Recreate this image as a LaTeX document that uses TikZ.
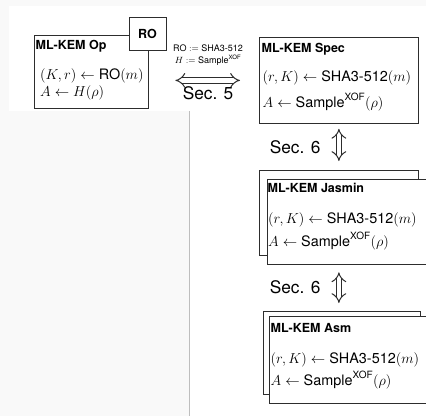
\documentclass[tikz,border=0pt]{standalone}
\usepackage{amsmath}
\usepackage{fontspec}
\setsansfont{TeX Gyre Heros}
\usetikzlibrary{arrows.meta,positioning}

\definecolor{pagegray}{RGB}{249,249,249}
\definecolor{rulegray}{RGB}{190,190,190}
\definecolor{framegray}{RGB}{45,45,45}

\begin{document}
\begin{tikzpicture}[
  x=1pt, y=-1pt, font=\sffamily,
  kembox/.style={draw=framegray, line width=0.8pt, fill=white, anchor=north west,
                 inner sep=0pt, minimum width=159pt, minimum height=85pt},
  ttl/.style={anchor=north west, inner sep=0pt, font=\sffamily\bfseries\fontsize{12.5}{15}\selectfont},
  body/.style={anchor=north west, inner sep=0pt, align=left, font=\sffamily\Large},
  sec/.style={inner sep=0pt, font=\sffamily\LARGE},
  dbl/.style={draw=framegray, double, double distance=4.2pt, line width=1pt,
              arrows={Implies[length=8pt, width=21pt]-Implies[length=8pt, width=21pt]}},
]
\useasboundingbox (0,0) rectangle (426,416);
\clip (0,0) rectangle (426,416);
% ---------------- page -----------------
\fill[pagegray] (0,0) rectangle (426,416);
\fill[white] (9,6) rectangle (426,111);
\fill[white] (190,111) rectangle (426,416);
\draw[rulegray, line width=0.8pt] (189.5,111) -- (189.5,416);
% ---------------- ideal scheme -----------------
\node[kembox, minimum width=114pt, minimum height=73pt] (op) at (34,35) {};
\node[kembox, minimum width=37pt, minimum height=33pt, anchor=center,
      font=\sffamily\bfseries\fontsize{12.5}{15}\selectfont] (ro) at (147.5,33.5) {RO};
\node[ttl, below right=5pt and 1.5pt of op.north west] (optitle) {ML-KEM Op};
\node[body, below right=33pt and 6pt of op.north west] (opbody)
  {$(K,r) \leftarrow \textsf{RO}(m)$\\[-1pt] $A \leftarrow H(\rho)$};
% ---------------- spec -----------------
\node[kembox, minimum height=86pt] (spec) at (259,37) {};
\node[ttl, below right=6pt and 2.5pt of spec.north west] (spectitle) {ML-KEM Spec};
\node[body, below right=33pt and 3.5pt of spec.north west] (specbody)
  {$(r,K) \leftarrow \textsf{SHA3-512}(m)$\\[8pt] $A \leftarrow \textsf{Sample}^{\textsf{XOF}}(\rho)$};
\draw[dbl, shorten <=9pt, shorten >=19pt] (ro.east |- spec.west) -- (spec.west)
  node[pos=0.45, above=14pt, align=center, inner sep=0pt, font=\small] (defs)
    {$\textsf{RO} := \textsf{SHA3-512}$\\[1.5pt] $H := \textsf{Sample}^{\textsf{XOF}}$}
  node[pos=0.45, below=6pt, sec] (sec5) {Sec. 5};
% ---------------- jasmin -----------------
\node[kembox] (jasbk) at (259,170) {};
\node[kembox] (jas) at (266.5,178.5) {};
\node[ttl, below right=4.5pt and 1pt of jas.north west] (jastitle) {ML-KEM Jasmin};
\node[body, below right=34pt and 1.5pt of jas.north west] (jasbody)
  {$(r,K) \leftarrow \textsf{SHA3-512}(m)$\\[5pt] $A \leftarrow \textsf{Sample}^{\textsf{XOF}}(\rho)$};
\draw[dbl, shorten <=5pt, shorten >=9pt] (spec.south) -- (jasbk.north -| spec.south)
  node[midway, left=18pt, sec] (sec6a) {Sec. 6};
% ---------------- asm -----------------
\node[kembox, minimum width=157pt, minimum height=83pt] (asmbk) at (262.5,311) {};
\node[kembox, minimum height=87pt] (asm) at (269,316) {};
\node[ttl, below right=7.5pt and 1.5pt of asm.north west] (asmtitle) {ML-KEM Asm};
\node[body, below right=36pt and 1.5pt of asm.north west] (asmbody)
  {$(r,K) \leftarrow \textsf{SHA3-512}(m)$\\[4pt] $A \leftarrow \textsf{Sample}^{\textsf{XOF}}(\rho)$};
\draw[dbl, shorten <=8pt, shorten >=8pt] (jas.south -| spec.south) -- (asmbk.north -| spec.south)
  node[midway, left=18pt, sec] (sec6b) {Sec. 6};
\end{tikzpicture}
\end{document}
